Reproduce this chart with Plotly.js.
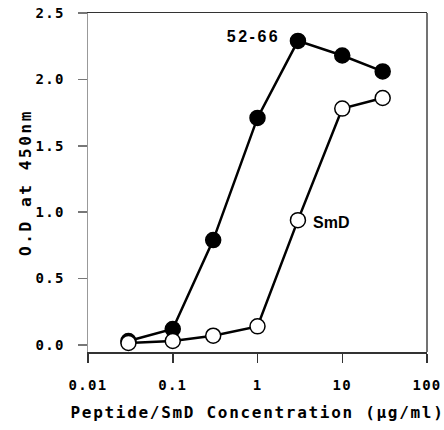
<!DOCTYPE html>
<html>
<head>
<meta charset="utf-8">
<script src="https://cdn.plot.ly/plotly-3.0.1.min.js"></script>
<style>
  html, body { margin: 0; padding: 0; background: #fff; }
  #chart { width: 444px; height: 430px; }
  .xtick text, .ytick text { letter-spacing: 1.3px; }
  .g-xtitle text { letter-spacing: 1.7px; }
  .g-ytitle text { letter-spacing: 2.6px; }
  .annotation[data-index="0"] text { letter-spacing: 2.5px; }
</style>
</head>
<body>
<div id="chart"></div>
<script>
const concentrations = [0.03, 0.1, 0.3, 1, 3, 10, 30];
const peptide5266 = [0.03, 0.12, 0.79, 1.71, 2.29, 2.18, 2.06];
const smdValues = [0.015, 0.03, 0.07, 0.14, 0.94, 1.78, 1.86];
const xTickVals = [0.01, 0.1, 1, 10, 100];
const xTickText = ['0.01', '0.1', '1', '10', '100'];
const yTickVals = [0, 0.5, 1.0, 1.5, 2.0, 2.5];
const yTickText = ['0.0', '0.5', '1.0', '1.5', '2.0', '2.5'];

const mono = 'DejaVu Sans Mono, monospace';
const sans = 'Liberation Sans, Arial, sans-serif';

const traces = [
  {
    x: concentrations, y: peptide5266, name: '52-66',
    mode: 'lines+markers', type: 'scatter',
    line: {color: '#000', width: 2.5},
    marker: {symbol: 'circle', size: 15, color: '#000', line: {color: '#000', width: 1.5}}
  },
  {
    x: concentrations, y: smdValues, name: 'SmD',
    mode: 'lines+markers', type: 'scatter',
    line: {color: '#000', width: 2.5},
    marker: {symbol: 'circle', size: 15, color: '#fff', line: {color: '#000', width: 1.5}}
  }
];

const layout = {
  width: 444, height: 430,
  margin: {l: 88, r: 17, t: 13, b: 78},
  paper_bgcolor: '#fff', plot_bgcolor: '#fff',
  showlegend: false,
  font: {family: mono, color: '#000'},
  xaxis: {
    type: 'log', range: [-2, 2],
    tickvals: xTickVals, ticktext: xTickText,
    tickfont: {family: mono, size: 14, weight: 'bold', color: '#000'},
    ticks: 'outside', ticklen: 9, tickwidth: 1.5, tickcolor: '#333',
    ticklabelstandoff: 11,
    showline: true, linecolor: '#333', linewidth: 1.5, mirror: true,
    showgrid: false, zeroline: false,
    title: {text: 'Peptide/SmD Concentration (μg/ml)', font: {family: mono, size: 16, weight: 'bold', color: '#000'}, standoff: 14},
    automargin: false
  },
  yaxis: {
    range: [-0.053, 2.5],
    tickvals: yTickVals, ticktext: yTickText,
    tickfont: {family: mono, size: 14, weight: 'bold', color: '#000'},
    ticks: 'outside', ticklen: 9, tickwidth: 1.5, tickcolor: '#777',
    ticklabelstandoff: 10,
    showline: true, linecolor: '#999', linewidth: 1.5, mirror: false,
    showgrid: false, zeroline: false,
    title: {text: 'O.D at 450nm', font: {family: mono, size: 16, weight: 'bold', color: '#000'}, standoff: 0},
    automargin: false
  },
  shapes: [
    {type: 'line', xref: 'paper', yref: 'paper', x0: 1, x1: 1, y0: 0, y1: 1, line: {color: '#444', width: 1.5}}
  ],
  annotations: [
    {text: '52-66', xref: 'x', yref: 'y', x: -0.053, y: 2.32, showarrow: false,
     font: {family: sans, size: 16, weight: 'bold', color: '#000'}},
    {text: 'SmD', xref: 'x', yref: 'y', x: 0.867, y: 0.92, showarrow: false,
     font: {family: sans, size: 16, weight: 'bold', color: '#000'}}
  ]
};

Plotly.newPlot('chart', traces, layout, {displayModeBar: false, staticPlot: true});
</script>
</body>
</html>
